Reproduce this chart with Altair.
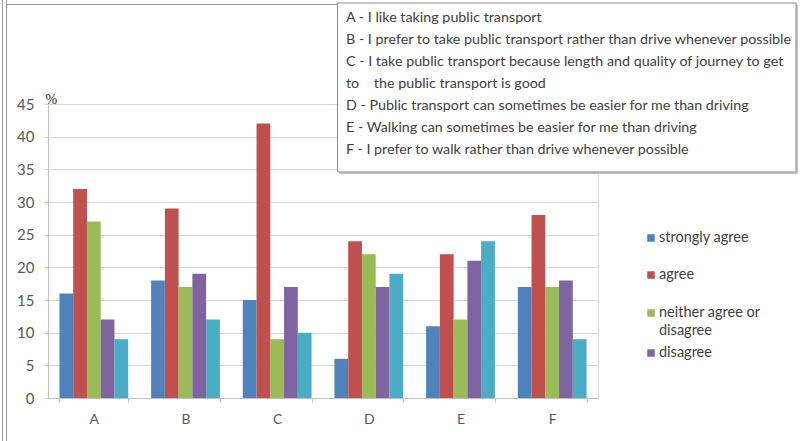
import altair as alt
import pandas as pd

# Survey statements (A-F) and the share of respondents per answer, in %
statements = ["A", "B", "C", "D", "E", "F"]
answers = ["strongly agree", "agree", "neither agree or disagree", "disagree", "strongly disagree"]
strongly_agree = [16, 18, 15, 6, 11, 17]
agree = [32, 29, 42, 24, 22, 28]
neither = [27, 17, 9, 22, 12, 17]
disagree = [12, 19, 17, 17, 21, 18]
strongly_disagree = [9, 12, 10, 19, 24, 9]
colors = ["#4F81BD", "#C0504D", "#9BBB59", "#8064A2", "#4BACC6"]

key_lines = [
    "A - I like taking public transport",
    "B - I prefer to take public transport rather than drive whenever possible",
    "C - I take public transport because length and quality of journey to get",
    "to\u00a0\u00a0\u00a0\u00a0the public transport is good",
    "D - Public transport can sometimes be easier for me than driving",
    "E - Walking can sometimes be easier for me than driving",
    "F - I prefer to walk rather than drive whenever possible",
]

# legend entries shown beside the plot (the last answer falls outside the frame)
legend_labels = [["strongly agree"], ["agree"], ["neither agree or", "disagree"], ["disagree"]]

series = [strongly_agree, agree, neither, disagree, strongly_disagree]
rows = []
for name, vals in zip(answers, series):
    for s, v in zip(statements, vals):
        rows.append({"statement": s, "answer": name, "pct": v})
df = pd.DataFrame(rows)

FONT = "Lato"
W, H = 550, 294

bars = alt.Chart(df).mark_bar(size=13.75).encode(
    x=alt.X(
        "statement:N",
        sort=statements,
        scale=alt.Scale(paddingInner=0.25, paddingOuter=0.125),
        axis=alt.Axis(
            title=None, labelAngle=0, labelFontSize=14, labelColor="#595959",
            labelFont=FONT, labelPadding=10, tickBand="extent", tickSize=4,
            tickColor="#bfbfbf", domainColor="#bfbfbf", grid=False,
        ),
    ),
    xOffset=alt.XOffset("answer:N", sort=answers, scale=alt.Scale(domain=answers)),
    y=alt.Y(
        "pct:Q",
        scale=alt.Scale(domain=[0, 45], nice=False),
        axis=alt.Axis(
            title="%", titleAngle=0, titleX=-3, titleY=2, titleAlign="left",
            titleBaseline="bottom", titleFont="Liberation Serif", titleFontSize=14,
            titleFontWeight="normal", titleColor="#222222",
            values=list(range(0, 50, 5)), labelFontSize=15, labelColor="#595959",
            labelFont=FONT, tickSize=4, tickColor="#d0d0d0", labelPadding=10,
            domainColor="#bfbfbf", gridColor="#d6d6d6",
        ),
    ),
    color=alt.Color(
        "answer:N",
        sort=answers,
        scale=alt.Scale(domain=answers, range=colors),
        legend=None,
    ),
)

# legend: coloured squares with their labels
legend_rows = [134, 171, 209, 249]
legend_layers = []
for i, (lab, yy) in enumerate(zip(legend_labels, legend_rows)):
    one = pd.DataFrame({"k": [0]})
    legend_layers.append(
        alt.Chart(one).mark_square(size=56, opacity=1).encode(
            x=alt.value(603), y=alt.value(yy), color=alt.value(colors[i]))
    )
    legend_layers.append(
        alt.Chart(one).mark_text(
            align="left", baseline="middle", font=FONT, fontSize=14.5,
            color="#404040", lineHeight=18,
        ).encode(x=alt.value(611), y=alt.value(yy),
                 text=alt.value(lab if len(lab) > 1 else lab[0]))
    )

# outer frame lines of the figure
frame = pd.DataFrame({"k": [0]})
left1 = alt.Chart(frame).mark_rule(color="#9a9a9a", strokeWidth=1).encode(
    x=alt.value(-45.5), y=alt.value(-104), y2=alt.value(337))
left2 = alt.Chart(frame).mark_rule(color="#9a9a9a", strokeWidth=1).encode(
    x=alt.value(-41.5), y=alt.value(-104), y2=alt.value(337))
top = alt.Chart(frame).mark_rule(color="#9a9a9a", strokeWidth=1).encode(
    x=alt.value(-41), x2=alt.value(290), y=alt.value(-99.5))

# key box with its shadow
shadow = alt.Chart(frame).mark_rect(color="#c8c8c8").encode(
    x=alt.value(291), x2=alt.value(750), y=alt.value(-99), y2=alt.value(70))
box = alt.Chart(frame).mark_rect(fill="white", stroke="#8c8c8c", strokeWidth=1).encode(
    x=alt.value(289.5), x2=alt.value(748), y=alt.value(-101), y2=alt.value(68))
key_text = alt.Chart(frame).mark_text(
    align="left", baseline="middle", font=FONT, fontSize=14.3, color="#404040",
    lineHeight=22,
).encode(x=alt.value(298), y=alt.value(-86), text=alt.value(key_lines))

chart = alt.layer(left1, left2, top, bars, shadow, box, key_text, *legend_layers).properties(
    width=W, height=H,
    autosize=alt.AutoSizeParams(type="none"),
    padding={"left": 48, "top": 104, "right": 202, "bottom": 43},
).configure_view(stroke=None).configure(background="white")

chart.save("out.html", embed_options={"renderer": "svg", "actions": False})
